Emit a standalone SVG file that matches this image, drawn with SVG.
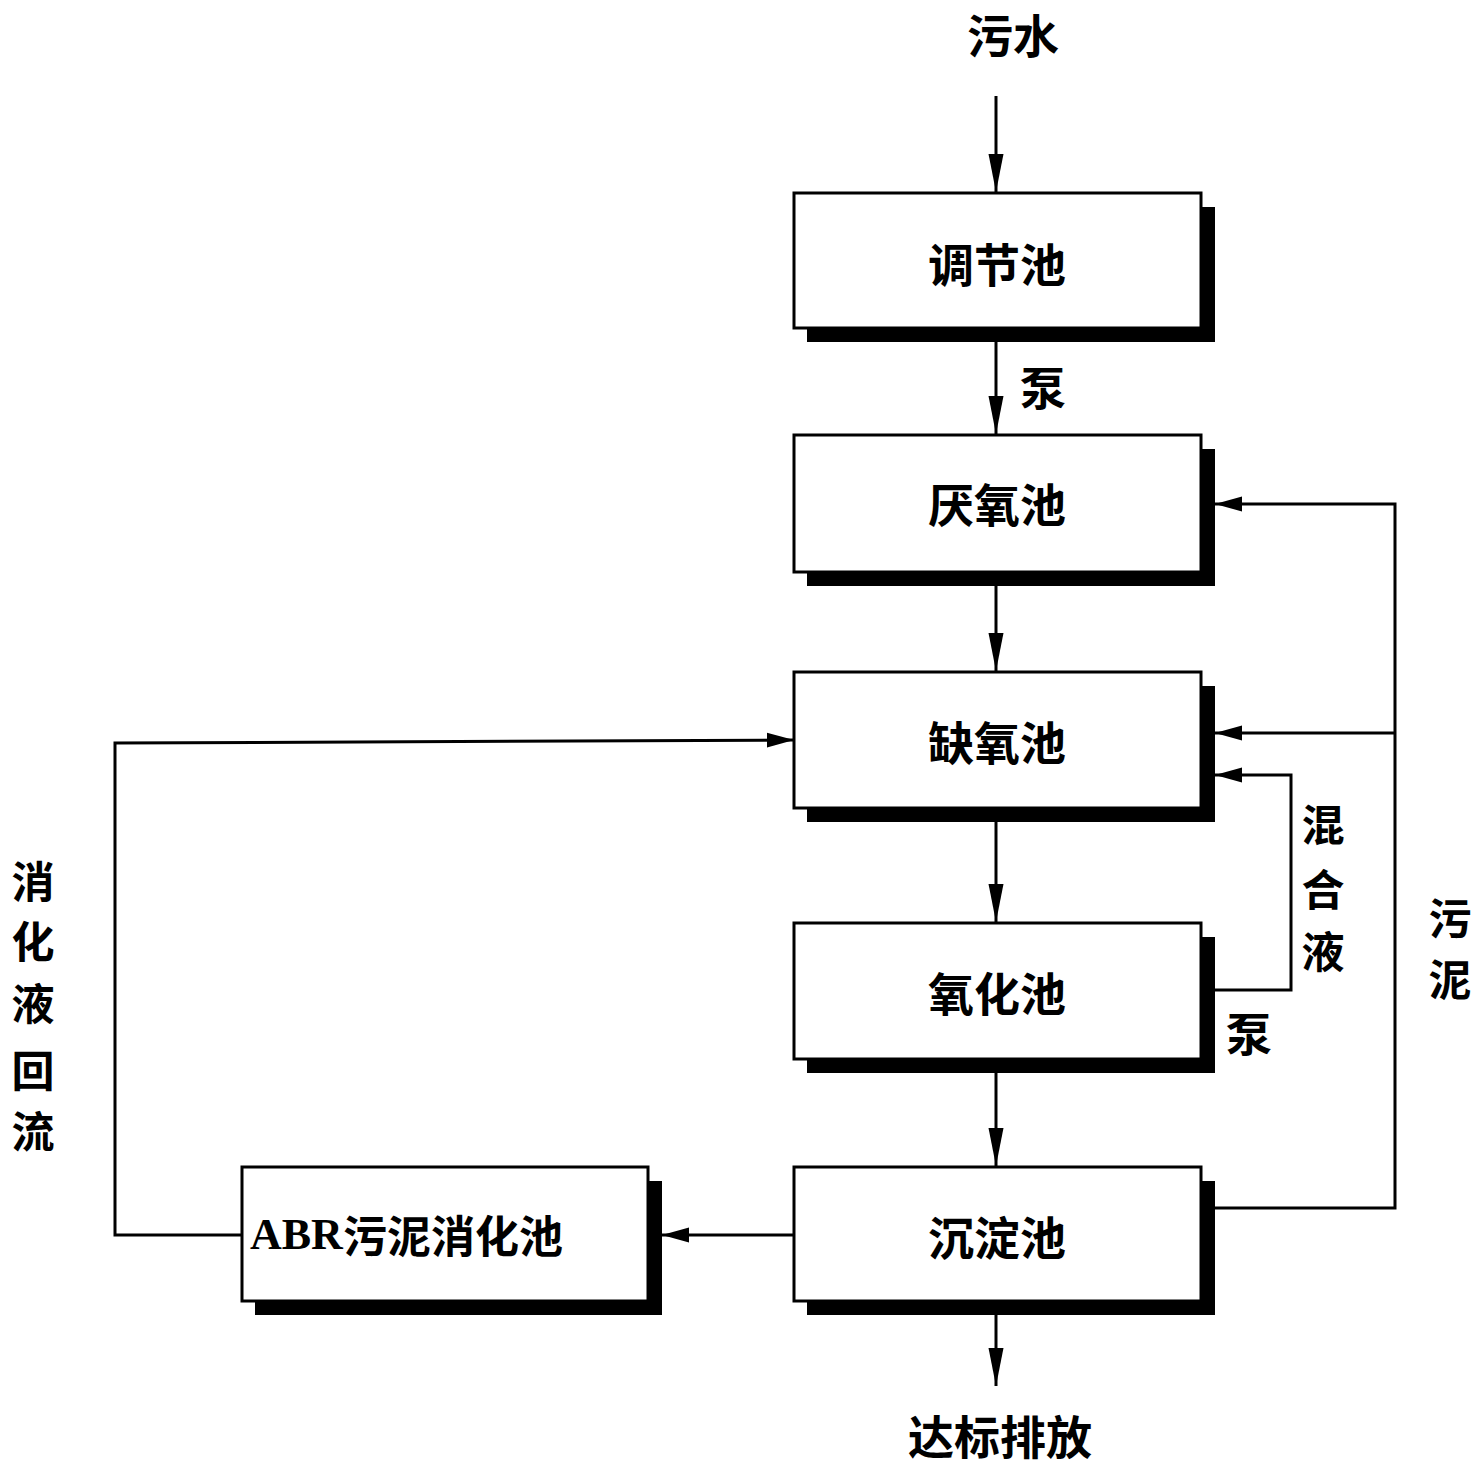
<svg xmlns="http://www.w3.org/2000/svg" width="1479" height="1466" viewBox="0 0 1479 1466">
<defs>
<style>
.t{font-family:"Noto Sans CJK SC","Noto Sans CJK JP",sans-serif;font-weight:700;font-size:46px;fill:#000;text-anchor:middle;dominant-baseline:central}
.v{font-size:43px}
.box{fill:#fff;stroke:#000;stroke-width:3}
.sh{fill:#000}
.ln{fill:none;stroke:#000;stroke-width:3}
</style>
<marker id="av" markerUnits="userSpaceOnUse" markerWidth="40" markerHeight="18" refX="38" refY="9" orient="auto">
<path d="M0,1.5 L38,9 L0,16.5 Z" fill="#000"/>
</marker>
<marker id="ah" markerUnits="userSpaceOnUse" markerWidth="30" markerHeight="18" refX="27" refY="9" orient="auto">
<path d="M0,1.5 L27,9 L0,16.5 Z" fill="#000"/>
</marker>
</defs>
<rect width="1479" height="1466" fill="#fff"/>

<g id="connectors">
<line class="ln" x1="996" y1="96" x2="996" y2="192" marker-end="url(#av)"/>
<line class="ln" x1="996" y1="342" x2="996" y2="434" marker-end="url(#av)"/>
<line class="ln" x1="996" y1="586" x2="996" y2="671" marker-end="url(#av)"/>
<line class="ln" x1="996" y1="822" x2="996" y2="922" marker-end="url(#av)"/>
<line class="ln" x1="996" y1="1073" x2="996" y2="1166" marker-end="url(#av)"/>
<line class="ln" x1="996" y1="1315" x2="996" y2="1386" marker-end="url(#av)"/>
<line class="ln" x1="794" y1="1235" x2="662" y2="1235" marker-end="url(#ah)"/>
<polyline class="ln" points="242,1235 115,1235 115,743 794,740" marker-end="url(#ah)"/>
<polyline class="ln" points="1215,1208 1395,1208 1395,504 1215,504" marker-end="url(#ah)"/>
<line class="ln" x1="1395" y1="733" x2="1215" y2="733" marker-end="url(#ah)"/>
<polyline class="ln" points="1215,990 1291,990 1291,775 1215,775" marker-end="url(#ah)"/>
</g>

<g id="n-tiaojie">
<rect class="sh" x="807" y="207" width="408" height="135"/>
<rect class="box" x="794" y="193" width="407" height="135"/>
<text class="t" x="997" y="262">调节池</text>
</g>
<g id="n-yanyang">
<rect class="sh" x="807" y="449" width="408" height="137"/>
<rect class="box" x="794" y="435" width="407" height="137"/>
<text class="t" x="997" y="502">厌氧池</text>
</g>
<g id="n-queyang">
<rect class="sh" x="807" y="686" width="408" height="136"/>
<rect class="box" x="794" y="672" width="407" height="136"/>
<text class="t" x="997" y="740">缺氧池</text>
</g>
<g id="n-yanghua">
<rect class="sh" x="807" y="937" width="408" height="136"/>
<rect class="box" x="794" y="923" width="407" height="136"/>
<text class="t" x="997" y="991">氧化池</text>
</g>
<g id="n-chendian">
<rect class="sh" x="807" y="1181" width="408" height="134"/>
<rect class="box" x="794" y="1167" width="407" height="134"/>
<text class="t" x="997" y="1235">沉淀池</text>
</g>
<g id="n-abr">
<rect class="sh" x="255" y="1181" width="407" height="134"/>
<rect class="box" x="242" y="1167" width="406" height="134"/>
<text class="t" x="250" y="1234" style="text-anchor:start;font-size:44px"><tspan font-family="Liberation Serif" font-weight="700">ABR</tspan>污泥消化池</text>
</g>

<g id="labels">
<text class="t" x="1013" y="33">污水</text>
<text class="t" x="1043" y="385">泵</text>
<text class="t" x="1249" y="1031">泵</text>
<text class="t" x="1000" y="1434">达标排放</text>
<text class="t v" x="1323" y="822">混</text>
<text class="t v" x="1323" y="887">合</text>
<text class="t v" x="1323" y="949">液</text>
<text class="t v" x="1450" y="916">污</text>
<text class="t v" x="1450" y="977">泥</text>
<text class="t v" x="33" y="879">消</text>
<text class="t v" x="33" y="939">化</text>
<text class="t v" x="33" y="1001">液</text>
<text class="t v" x="33" y="1068">回</text>
<text class="t v" x="33" y="1129">流</text>
</g>
</svg>
